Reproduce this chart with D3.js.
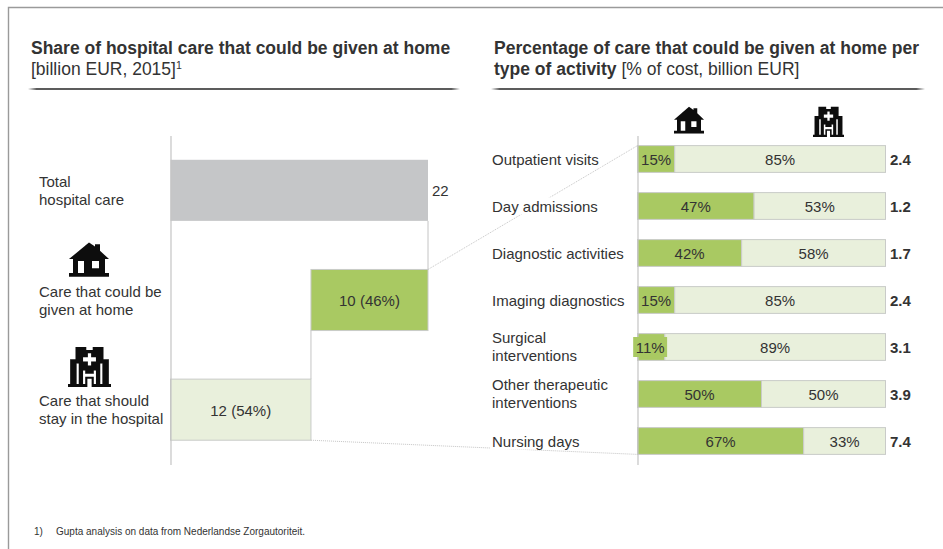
<!DOCTYPE html>
<html>
<head>
<meta charset="utf-8">
<title>Hospital care that could be given at home</title>
<script src="https://cdn.jsdelivr.net/npm/d3@7"></script>
<style>
  html, body { margin: 0; padding: 0; background: #fff; }
  svg { display: block; }
  text { font-family: "Liberation Sans", Arial, sans-serif; fill: #333; }
</style>
</head>
<body>
<div id="chart"></div>
<script>
// Left panel: total hospital care split in two parts
const shareRows = ["total", "home", "hospital"];
const shareLabels = [["Total", "hospital care"], ["Care that could be", "given at home"], ["Care that should", "stay in the hospital"]];
const shareStart = [0, 12, 0];
const shareEnd = [22, 22, 12];
const shareValueLabels = ["22", "10 (46%)", "12 (54%)"];

// Right panel: share of each activity that could move home
const activities = ["Outpatient visits", "Day admissions", "Diagnostic activities", "Imaging diagnostics", "Surgical interventions", "Other therapeutic interventions", "Nursing days"];
const activityLabels = [["Outpatient visits"], ["Day admissions"], ["Diagnostic activities"], ["Imaging diagnostics"], ["Surgical", "interventions"], ["Other therapeutic", "interventions"], ["Nursing days"]];
const homePct = [15, 47, 42, 15, 11, 50, 67];
const hospitalPct = [85, 53, 58, 85, 89, 50, 33];
const costBillion = [2.4, 1.2, 1.7, 2.4, 3.1, 3.9, 7.4];

const colors = { total: "#c5c6c8", home: "#a9c962", hospital: "#e9f0dc", edge: "#c9cbc8", axis: "#c4c4c4", frame: "#9a9a9a" };
const bodySize = 15;
const titleSize = 17.5;

const width = 943, height = 549;
const svg = d3.select("#chart").append("svg").attr("width", width).attr("height", height);
const defs = svg.append("defs");

// Header rule fades out at both ends
const fade = defs.append("linearGradient").attr("id", "ruleFade");
[[0, 0], [0.02, 0.8], [0.98, 0.8], [1, 0]].forEach(([o, a]) =>
  fade.append("stop").attr("offset", o).attr("stop-color", "#333").attr("stop-opacity", a));
const soft = defs.append("filter").attr("id", "iconSoft").attr("x", "-10%").attr("y", "-10%").attr("width", "120%").attr("height", "120%");
soft.append("feGaussianBlur").attr("stdDeviation", 0.45);

// Icons, drawn in a 40 x 40 box
const housePath = "M20 1 L26 5.5 V3 H31 V10 L40 19 H36 V34 H40 V38 H0 V34 H4 V19 H0 Z " +
  "M9 21 V34 H15 V21 Z M23 21 V29 H30 V21 Z";
const hospitalPath = "M7 1 H17 V4 H23 V1 H33 V13 H38 V37 H40 V40 H0 V37 H2 V13 H7 Z " +
  "M18.5 7 V11 H14 V15 H18.5 V19 H21.5 V15 H26 V11 H21.5 V7 Z " +
  "M8 17 V37 H10 V17 Z M30 17 V37 H32 V17 Z " +
  "M14 24 V37 H16 V30 H24 V37 H26 V24 H24 V27 H16 V24 Z " +
  "M18 32 V40 H22 V32 Z";

function icon(path, x, y, w, h) {
  svg.append("path")
    .attr("d", path)
    .attr("fill", "#0a0a0a")
    .attr("fill-rule", "evenodd")
    .attr("filter", "url(#iconSoft)")
    .attr("transform", `translate(${x},${y}) scale(${w / 40},${h / 40})`);
}

// Outer frame: top and left edges only
svg.append("path")
  .attr("d", `M8.5 ${height} V7.5 H${width}`)
  .attr("fill", "none").attr("stroke", colors.frame).attr("stroke-width", 1.4);

// Panel headers
function header(x, x2, first, second) {
  const t1 = svg.append("text").attr("x", x).attr("y", 54).attr("font-size", titleSize);
  first.forEach(r => t1.append("tspan").attr("font-weight", r.b ? 700 : 400).text(r.t));
  const t2 = svg.append("text").attr("x", x).attr("y", 75).attr("font-size", titleSize);
  second.forEach(r => t2.append("tspan")
    .attr("font-weight", r.b ? 700 : 400)
    .attr("font-size", r.sup ? 10.5 : null)
    .attr("dy", r.sup ? -6.5 : null)
    .text(r.t));
  svg.append("rect").attr("x", x - 3).attr("y", 88).attr("width", x2 - x + 3).attr("height", 2)
    .attr("fill", "url(#ruleFade)");
}
header(31, 460,
  [{ t: "Share of hospital care that could be given at home", b: true }],
  [{ t: "[billion EUR, 2015]" }, { t: "1", sup: true }]);
header(494, 925,
  [{ t: "Percentage of care that could be given at home per", b: true }],
  [{ t: "type of activity", b: true }, { t: " [% of cost, billion EUR]" }]);

// Scales
const xShare = d3.scaleLinear().domain([0, 22]).range([170.5, 428]);
const yShare = d3.scaleBand().domain(shareRows).range([135.5, 464.5]).paddingInner(0.443).paddingOuter(0.2215);
const xPct = d3.scaleLinear().domain([0, 100]).range([637.5, 885.5]);
const yPct = d3.scaleBand().domain(activities).range([135.5, 464.5]).paddingInner(0.43).paddingOuter(0.215);

// Dotted connectors between the "at home" step and the activity bars
const connectors = svg.append("g").attr("fill", "none").attr("stroke", "#b5b5b5").attr("stroke-width", 0.8).attr("stroke-dasharray", "1 1");
connectors.append("line")
  .attr("x1", xShare(22)).attr("y1", yShare("home"))
  .attr("x2", xPct(0)).attr("y2", yPct(activities[0]));
connectors.append("line")
  .attr("x1", xShare(12)).attr("y1", yShare("hospital") + yShare.bandwidth())
  .attr("x2", xPct(0)).attr("y2", yPct(activities[6]) + yPct.bandwidth());

// Left panel: waterfall steps
const shareData = shareRows.map((key, i) => ({ key, start: shareStart[i], end: shareEnd[i], label: shareValueLabels[i], lines: shareLabels[i] }));
const shareG = svg.append("g");
shareG.selectAll("rect").data(shareData).join("rect")
  .attr("x", d => xShare(d.start))
  .attr("y", d => yShare(d.key))
  .attr("width", d => xShare(d.end) - xShare(d.start))
  .attr("height", yShare.bandwidth())
  .attr("fill", d => colors[d.key])
  .attr("stroke", d => d.key === "total" ? "none" : colors.edge);

// Thin verticals joining the steps
shareG.append("line").attr("x1", xShare(22)).attr("x2", xShare(22))
  .attr("y1", yShare("total") + yShare.bandwidth()).attr("y2", yShare("home"))
  .attr("stroke", colors.axis);
shareG.append("line").attr("x1", xShare(12)).attr("x2", xShare(12))
  .attr("y1", yShare("home") + yShare.bandwidth()).attr("y2", yShare("hospital"))
  .attr("stroke", colors.axis);

function styleAxis(g) {
  g.select(".domain").attr("stroke", colors.axis).attr("stroke-width", 1.2);
}
svg.append("g").attr("transform", `translate(${xShare(0)},0)`)
  .call(d3.axisLeft(yShare).tickSize(0).tickFormat("")).call(styleAxis);

shareG.selectAll("text.value").data(shareData).join("text")
  .attr("class", "value")
  .attr("x", d => d.key === "total" ? xShare(d.end) + 4 : (xShare(d.start) + xShare(d.end)) / 2)
  .attr("y", d => yShare(d.key) + yShare.bandwidth() / 2 + 6)
  .attr("text-anchor", d => d.key === "total" ? "start" : "middle")
  .attr("font-size", bodySize)
  .text(d => d.label);

const shareBaselines = { total: 187, home: 296.5, hospital: 405.5 };
shareData.forEach(d => {
  d.lines.forEach((line, j) => {
    svg.append("text").attr("x", 39).attr("y", shareBaselines[d.key] + j * 18.3)
      .attr("font-size", bodySize).text(line);
  });
});

icon(housePath, 69, 241.5, 40, 37);
icon(hospitalPath, 68, 346, 43, 41);
icon(housePath, 674, 106, 30, 29);
icon(hospitalPath, 813, 106, 31, 31);

// Right panel: category labels sit on white so the connectors break behind them
const labelG = svg.append("g");
activityLabels.forEach((lines, i) => {
  const mid = yPct(activities[i]) + yPct.bandwidth() / 2;
  const top = mid + 5.5 - (lines.length - 1) * 9 - (lines.length > 1 ? 0.7 : 0);
  const g = labelG.append("g");
  const text = g.append("g");
  lines.forEach((line, j) => {
    text.append("text").attr("x", 492).attr("y", top + j * 18).attr("font-size", bodySize).text(line);
  });
  const box = text.node().getBBox();
  g.insert("rect", ":first-child")
    .attr("x", box.x - 2).attr("y", box.y).attr("width", box.width + 4).attr("height", box.height)
    .attr("fill", "#fff");
});

// Right panel: stacked bars
const activityData = activities.map((name, i) => ({ name, home: homePct[i], hospital: hospitalPct[i], cost: costBillion[i] }));
const stack = d3.stack().keys(["home", "hospital"])(activityData);
const barG = svg.append("g");
barG.selectAll("g").data(stack).join("g")
  .attr("fill", s => colors[s.key])
  .selectAll("rect").data(s => s).join("rect")
  .attr("x", d => xPct(d[0]))
  .attr("y", d => yPct(d.data.name))
  .attr("width", d => xPct(d[1]) - xPct(d[0]))
  .attr("height", yPct.bandwidth())
  .attr("stroke", colors.edge)
  .attr("stroke-width", 1);

svg.append("g").attr("transform", `translate(${xPct(0)},0)`)
  .call(d3.axisLeft(yPct).tickSize(0).tickFormat("")).call(styleAxis);

// Narrow segment: its label does not fit, so it gets a green plate of its own
const pctG = svg.append("g");
stack.forEach(s => {
  s.forEach(d => {
    const share = d[1] - d[0];
    const isNarrowest = s.key === "home" && share === d3.min(homePct);
    const cx = (xPct(d[0]) + xPct(d[1])) / 2 - (isNarrowest ? 1 : 0);
    const cy = yPct(d.data.name) + yPct.bandwidth() / 2;
    const label = pctG.append("text")
      .attr("x", cx).attr("y", cy + 5.5)
      .attr("text-anchor", "middle")
      .attr("font-size", bodySize)
      .text(share + "%");
    if (isNarrowest) {
      const box = label.node().getBBox();
      pctG.insert("rect", "text")
        .attr("x", box.x - 2.5).attr("y", cy - 10)
        .attr("width", box.width + 5).attr("height", 20)
        .attr("fill", colors.home);
    }
  });
});

svg.append("g").selectAll("text").data(activityData).join("text")
  .attr("x", 890)
  .attr("y", d => yPct(d.name) + yPct.bandwidth() / 2 + 5.5)
  .attr("font-size", bodySize)
  .attr("font-weight", 700)
  .text(d => d3.format(".1f")(d.cost));

// Footnote
svg.append("text").attr("x", 34).attr("y", 535).attr("font-size", 10).text("1)");
svg.append("text").attr("x", 56).attr("y", 535).attr("font-size", 10).text("Gupta analysis on data from Nederlandse Zorgautoriteit.");
</script>
</body>
</html>
